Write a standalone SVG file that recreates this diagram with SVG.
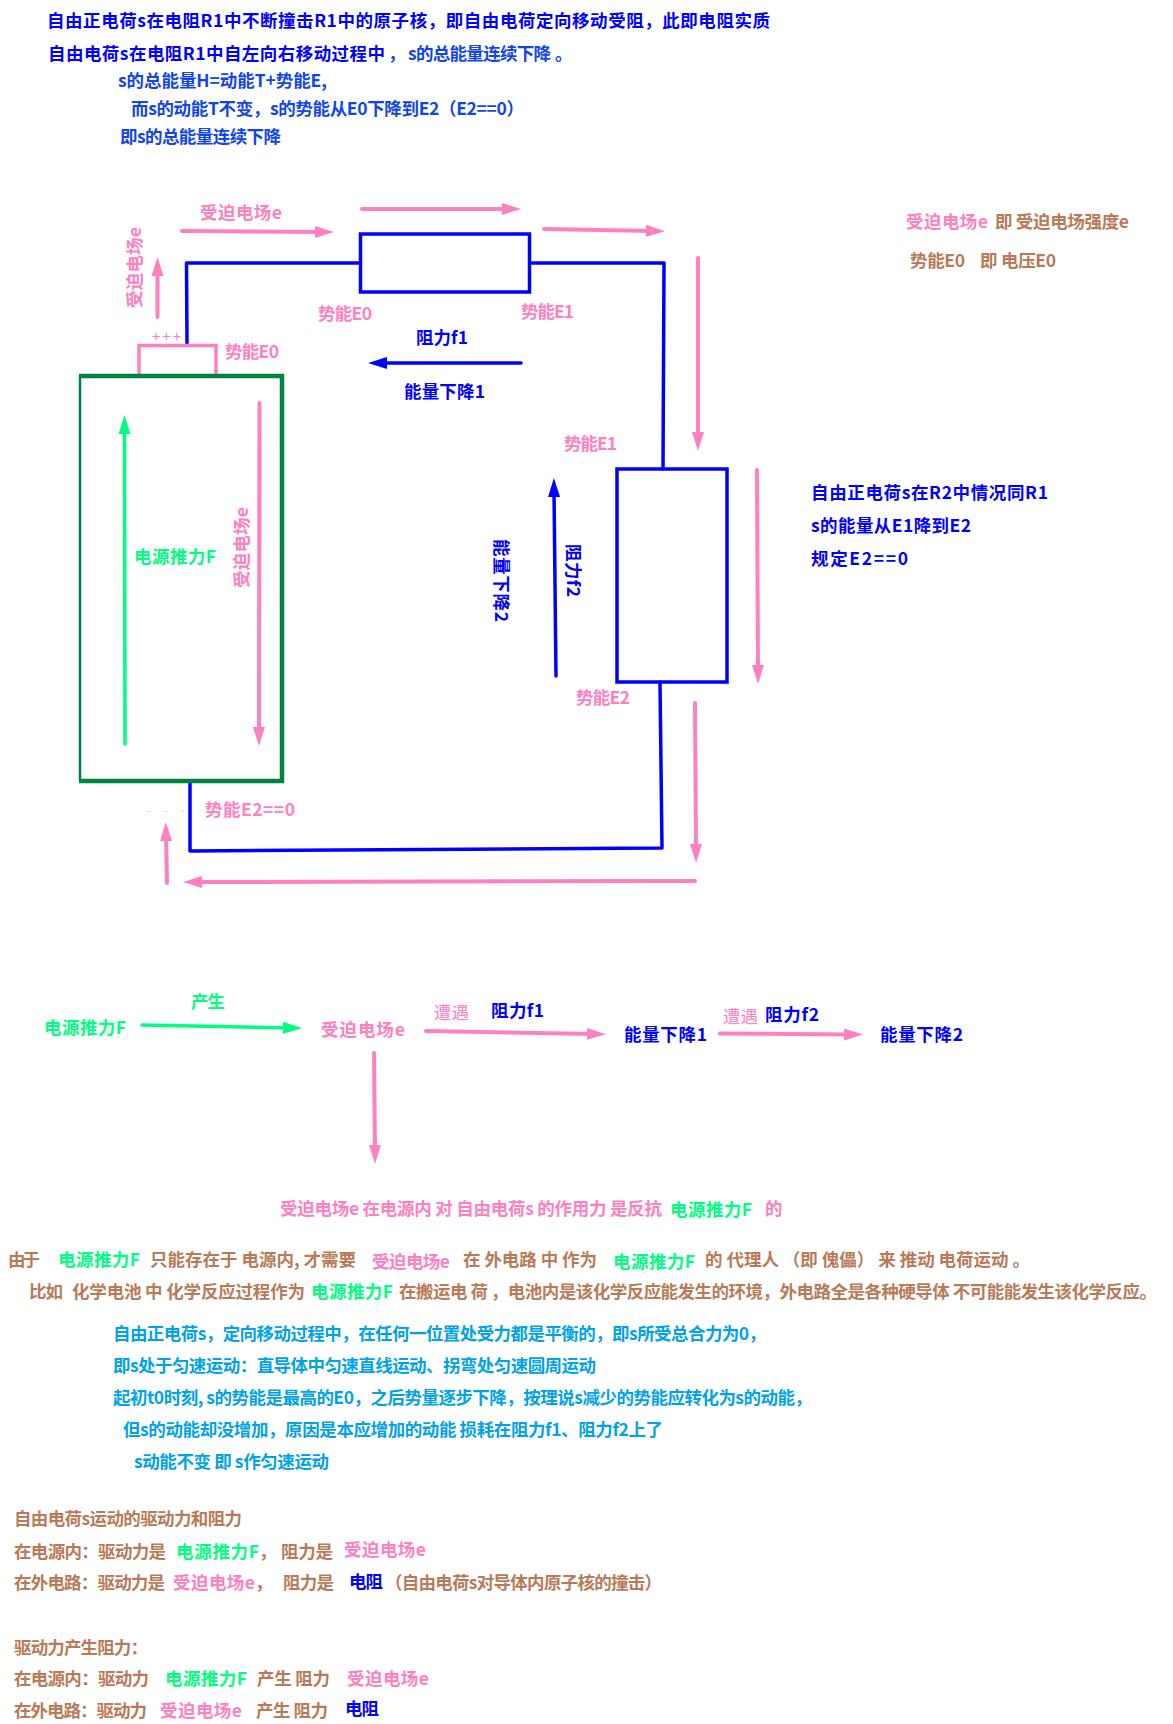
<svg xmlns="http://www.w3.org/2000/svg" width="1173" height="1724" viewBox="0 0 1173 1724">
<style>
text{font-family:"Noto Sans CJK SC","Noto Sans",sans-serif;font-size:17.500px;font-weight:700}
.k{fill:#0000ff}.b{fill:#0f45ea}.p{fill:#ff80c0}.g{fill:#00ff80}.n{fill:#b97a57}.c{fill:#00a2e8}
.w{fill:none;stroke:#0000ff;stroke-width:3.5;stroke-linejoin:round;stroke-linecap:round}
.ap{fill:none;stroke:#ff80c0;stroke-width:4;stroke-linecap:round;marker-end:url(#mp)}
.ab{fill:none;stroke:#0000ff;stroke-width:3.5;stroke-linecap:round;marker-end:url(#mb)}
.ag{fill:none;stroke:#00ff80;stroke-width:3.5;stroke-linecap:round;marker-end:url(#mg)}
</style>
<defs>
<marker id="mp" markerUnits="userSpaceOnUse" markerWidth="20" markerHeight="14" refX="7" refY="7" orient="auto"><path d="M0 1L19 7L0 13Z" fill="#ff80c0"/></marker>
<marker id="mb" markerUnits="userSpaceOnUse" markerWidth="20" markerHeight="14" refX="7" refY="7" orient="auto"><path d="M0 1L19 7L0 13Z" fill="#0000ff"/></marker>
<marker id="mg" markerUnits="userSpaceOnUse" markerWidth="20" markerHeight="14" refX="7" refY="7" orient="auto"><path d="M0 1L19 7L0 13Z" fill="#00ff80"/></marker>
</defs>
<rect width="1173" height="1724" fill="#fff"/>

<g id="intro">
<text class="k" x="47" y="27" textLength="723">自由正电荷s在电阻R1中不断撞击R1中的原子核，即自由电荷定向移动受阻，此即电阻实质</text>
<text class="k" x="48" y="60" textLength="337">自由电荷s在电阻R1中自左向右移动过程中</text>
<text class="b" x="388" y="60">，</text>
<text class="b" x="408" y="60" textLength="143">s的总能量连续下降</text>
<text class="b" x="555" y="60">。</text>
<text class="b" x="118" y="87" textLength="209">s的总能量H=动能T+势能E,</text>
<text class="b" x="131" y="115" textLength="393">而s的动能T不变，s的势能从E0下降到E2（E2==0）</text>
<text class="b" x="120" y="143" textLength="161">即s的总能量连续下降</text>
</g>

<g id="connectors">
<path class="w" d="M187 343L186.500 263H360"/>
<path class="w" d="M530 263H664L663 469"/>
<path class="w" d="M660 682L662 848L190 851V782"/>
<path class="ap" d="M182 231L322 232"/>
<path class="ap" d="M362 209L509 209"/>
<path class="ap" d="M544 229L653 231"/>
<path class="ap" d="M698 258L698 439"/>
<path class="ap" d="M157.500 317L157.500 269"/>
<path class="ap" d="M259.500 403L259 734"/>
<path class="ap" d="M757 470L758 672"/>
<path class="ap" d="M695 703L696 851"/>
<path class="ap" d="M695 881L195 882"/>
<path class="ap" d="M167 883L166 834"/>
<path class="ab" d="M521 363L380 363"/>
<path class="ab" d="M556 676L554 490"/>
<path class="ag" d="M125 744L124.500 427"/>
<path class="ag" d="M142 1025L290 1028"/>
<path class="ap" d="M426 1031L594 1034"/>
<path class="ap" d="M720 1033.500L851 1034.500"/>
<path class="ap" d="M374 1053L375 1152"/>
</g>

<g id="R1"><rect x="360.500" y="234" width="169" height="58" fill="none" stroke="#0000ff" stroke-width="3.500"/></g>
<g id="R2"><rect x="617" y="469" width="110" height="213" fill="none" stroke="#0000ff" stroke-width="3.500"/></g>
<g id="battery">
<path d="M139 375V345.500H216V375" fill="none" stroke="#ff80c0" stroke-width="3.500"/>
<path d="M80 376V781" fill="none" stroke="#00843f" stroke-width="2.500"/>
<path d="M79 376H282V781H79" fill="none" stroke="#00843f" stroke-width="4.500"/>
<text x="152" y="342" textLength="29" style="font-size:15px;font-weight:400;fill:#ff80c0">+++</text>
<text x="147" y="815" textLength="38" style="font-size:12px;font-weight:400;fill:#ffc0df">- - -</text>
</g>

<g id="circuit-labels">
<text class="p" x="200" y="219" textLength="82">受迫电场e</text>
<text class="p" transform="translate(141 308) rotate(-90)" textLength="81">受迫电场e</text>
<text class="p" transform="translate(248 588) rotate(-90)" textLength="81">受迫电场e</text>
<text class="p" x="318" y="320" textLength="54">势能E0</text>
<text class="p" x="521" y="318" textLength="53">势能E1</text>
<text class="p" x="225" y="358" textLength="54">势能E0</text>
<text class="p" x="564" y="450" textLength="53">势能E1</text>
<text class="p" x="576" y="704" textLength="54">势能E2</text>
<text class="p" x="205" y="816" textLength="90">势能E2==0</text>
<text class="k" x="416" y="344" textLength="52">阻力f1</text>
<text class="k" x="404" y="398" textLength="81">能量下降1</text>
<text class="g" x="134" y="563" textLength="82">电源推力F</text>
<text class="k" transform="translate(567 544) rotate(90)" textLength="53">阻力f2</text>
<text class="k" transform="translate(495 539) rotate(90)" textLength="83">能量下降2</text>
</g>

<g id="side-notes">
<text class="p" x="906" y="228" textLength="82">受迫电场e</text>
<text class="n" x="995" y="228" textLength="134">即 受迫电场强度e</text>
<text class="n" x="910" y="267" textLength="55">势能E0</text>
<text class="n" x="980" y="267">即</text>
<text class="n" x="1001" y="267" textLength="55">电压E0</text>
<text class="k" x="811" y="499" textLength="237">自由正电荷s在R2中情况同R1</text>
<text class="k" x="811" y="532" textLength="160">s的能量从E1降到E2</text>
<text class="k" x="811" y="565" textLength="97">规定E2==0</text>
</g>

<g id="flow">
<text class="g" x="44" y="1034" textLength="82">电源推力F</text>
<text class="g" x="191" y="1008" textLength="34">产生</text>
<text class="p" x="321" y="1036" textLength="84">受迫电场e</text>
<text class="p" x="434" y="1019" textLength="35" style="font-weight:400">遭遇</text>
<text class="k" x="491" y="1017" textLength="53">阻力f1</text>
<text class="k" x="624" y="1041" textLength="83">能量下降1</text>
<text class="p" x="723" y="1023" textLength="35" style="font-weight:400">遭遇</text>
<text class="k" x="765" y="1021" textLength="54">阻力f2</text>
<text class="k" x="880" y="1041" textLength="83">能量下降2</text>
</g>

<g id="explain">
<text class="p" x="280" y="1215" textLength="382">受迫电场e 在电源内 对 自由电荷s 的作用力 是反抗</text>
<text class="g" x="670" y="1216" textLength="82">电源推力F</text>
<text class="p" x="765" y="1215" textLength="17">的</text>
<text class="n" x="8" y="1266" textLength="32">由于</text>
<text class="g" x="58" y="1266" textLength="82">电源推力F</text>
<text class="n" x="150" y="1266" textLength="206">只能存在于 电源内, 才需要</text>
<text class="p" x="372" y="1268" textLength="78">受迫电场e</text>
<text class="n" x="463" y="1266" textLength="134">在 外电路 中 作为</text>
<text class="g" x="613" y="1268" textLength="82">电源推力F</text>
<text class="n" x="705" y="1266" textLength="325">的 代理人 （即 傀儡） 来 推动 电荷运动 。</text>
<text class="n" x="29" y="1298" textLength="34">比如</text>
<text class="n" x="72" y="1298" textLength="233">化学电池 中 化学反应过程作为</text>
<text class="g" x="311" y="1298" textLength="82">电源推力F</text>
<text class="n" x="399" y="1298" textLength="758">在搬运电 荷 ，电池内是该化学反应能发生的环境，外电路全是各种硬导体 不可能能发生该化学反应。</text>
<text class="c" x="113" y="1340" textLength="653">自由正电荷s，定向移动过程中，在任何一位置处受力都是平衡的，即s所受总合力为0，</text>
<text class="c" x="113" y="1372" textLength="483">即s处于匀速运动：直导体中匀速直线运动、拐弯处匀速圆周运动</text>
<text class="c" x="113" y="1404" textLength="699">起初t0时刻, s的势能是最高的E0，之后势量逐步下降，按理说s减少的势能应转化为s的动能，</text>
<text class="c" x="123" y="1436" textLength="540">但s的动能却没增加，原因是本应增加的动能 损耗在阻力f1、阻力f2上了</text>
<text class="c" x="134" y="1468" textLength="195">s动能不变 即 s作匀速运动</text>
</g>

<g id="summary">
<text class="n" x="14" y="1525" textLength="228">自由电荷s运动的驱动力和阻力</text>
<text class="n" x="14" y="1558" textLength="152">在电源内：驱动力是</text>
<text class="g" x="176" y="1558" textLength="83">电源推力F</text>
<text class="n" x="259" y="1558">，</text>
<text class="n" x="281" y="1558" textLength="52">阻力是</text>
<text class="p" x="344" y="1556" textLength="82">受迫电场e</text>
<text class="n" x="14" y="1589" textLength="151">在外电路：驱动力是</text>
<text class="p" x="173" y="1589" textLength="82">受迫电场e</text>
<text class="n" x="255" y="1589">，</text>
<text class="n" x="283" y="1589" textLength="51">阻力是</text>
<text class="k" x="349" y="1588" textLength="34">电阻</text>
<text class="n" x="385" y="1589" textLength="277">（自由电荷s对导体内原子核的撞击）</text>
<text class="n" x="14" y="1654" textLength="134">驱动力产生阻力：</text>
<text class="n" x="14" y="1685" textLength="135">在电源内：驱动力</text>
<text class="g" x="165" y="1685" textLength="82">电源推力F</text>
<text class="n" x="257" y="1685" textLength="73">产生 阻力</text>
<text class="p" x="347" y="1685" textLength="82">受迫电场e</text>
<text class="n" x="14" y="1717" textLength="133">在外电路：驱动力</text>
<text class="p" x="160" y="1717" textLength="82">受迫电场e</text>
<text class="n" x="256" y="1717" textLength="72">产生 阻力</text>
<text class="k" x="345" y="1715" textLength="34">电阻</text>
</g>
</svg>
